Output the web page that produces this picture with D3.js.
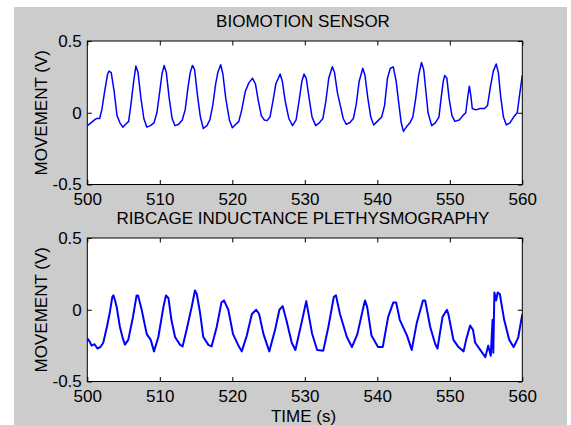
<!DOCTYPE html>
<html>
<head>
<meta charset="utf-8">
<script src="https://cdn.jsdelivr.net/npm/d3@7"></script>
<style>
	body { margin: 0; background: #fff; }
	svg text { font-family: "Liberation Sans", Arial, sans-serif; fill: #000; }
</style>
</head>
<body>
<svg id="chart" width="571" height="425"></svg>
<script>

// biomotion sensor trace (time s, volts)
var bioTime = [500.0, 500.5, 501.0, 501.3, 501.7, 502.0, 502.4, 502.8, 503.0, 503.3, 503.7, 504.1, 504.5, 504.9, 505.3, 505.7, 506.0, 506.4, 506.7, 507.0, 507.4, 507.8, 508.2, 508.7, 509.2, 509.6, 510.0, 510.3, 510.6, 510.9, 511.3, 511.7, 512.1, 512.6, 513.1, 513.5, 513.9, 514.2, 514.5, 514.8, 515.2, 515.6, 516.0, 516.5, 516.9, 517.3, 517.7, 518.0, 518.4, 518.7, 519.1, 519.6, 520.0, 520.5, 520.9, 521.3, 521.8, 522.3, 522.8, 523.2, 523.6, 524.0, 524.4, 524.8, 525.2, 525.6, 526.0, 526.6, 526.9, 527.3, 527.8, 528.3, 528.8, 529.2, 529.6, 529.9, 530.2, 530.6, 531.0, 531.5, 532.0, 532.5, 532.9, 533.3, 533.8, 534.1, 534.5, 534.9, 535.3, 535.7, 536.2, 536.7, 537.1, 537.5, 538.0, 538.3, 538.7, 539.1, 539.5, 540.0, 540.6, 541.0, 541.4, 541.8, 542.2, 542.6, 543.0, 543.3, 543.6, 544.0, 544.5, 544.9, 545.3, 545.7, 546.1, 546.4, 546.7, 547.0, 547.5, 548.0, 548.5, 548.8, 549.1, 549.3, 549.6, 549.9, 550.3, 550.7, 551.3, 551.8, 552.2, 552.5, 552.7, 552.9, 553.1, 553.6, 554.2, 554.8, 555.2, 555.6, 556.0, 556.4, 556.7, 557.0, 557.4, 557.8, 558.3, 558.8, 559.3, 559.7, 560.0];
var bioValue = [-0.09, -0.07, -0.05, -0.04, -0.04, 0.02, 0.15, 0.27, 0.29, 0.28, 0.15, -0.02, -0.07, -0.10, -0.08, -0.06, 0.05, 0.22, 0.325, 0.28, 0.10, -0.04, -0.10, -0.09, -0.07, 0.0, 0.15, 0.27, 0.33, 0.28, 0.10, -0.04, -0.09, -0.08, -0.05, 0.02, 0.18, 0.28, 0.33, 0.30, 0.12, -0.03, -0.11, -0.09, -0.05, 0.05, 0.20, 0.28, 0.335, 0.27, 0.10, -0.05, -0.105, -0.08, -0.06, 0.02, 0.15, 0.21, 0.24, 0.20, 0.08, -0.02, -0.05, -0.055, -0.03, 0.08, 0.20, 0.27, 0.22, 0.08, -0.04, -0.09, -0.05, 0.08, 0.22, 0.27, 0.24, 0.10, -0.03, -0.09, -0.07, -0.04, 0.08, 0.24, 0.32, 0.28, 0.14, 0.05, -0.04, -0.08, -0.07, -0.04, 0.06, 0.22, 0.31, 0.26, 0.10, -0.03, -0.085, -0.06, -0.03, 0.05, 0.24, 0.31, 0.32, 0.22, 0.05, -0.07, -0.13, -0.10, -0.07, -0.03, 0.10, 0.26, 0.35, 0.30, 0.15, 0.0, -0.09, -0.07, -0.03, 0.10, 0.22, 0.26, 0.24, 0.10, -0.02, -0.06, -0.05, -0.02, 0.0, 0.12, 0.185, 0.12, 0.03, 0.02, 0.03, 0.03, 0.05, 0.18, 0.29, 0.34, 0.28, 0.12, -0.03, -0.085, -0.07, -0.03, 0.0, 0.15, 0.26];

// ribcage inductance plethysmography trace
var ribTime = [500.0, 500.3, 500.6, 501.0, 501.4, 501.8, 502.2, 502.7, 503.1, 503.45, 503.6, 503.8, 504.05, 504.5, 504.9, 505.2, 505.65, 506.3, 506.8, 507.0, 507.5, 508.2, 508.75, 509.2, 509.8, 510.5, 510.85, 511.2, 511.6, 512.1, 512.8, 513.15, 513.7, 514.4, 514.85, 515.1, 515.55, 516.0, 516.7, 517.15, 517.85, 518.5, 518.85, 519.45, 520.1, 520.8, 521.3, 522.0, 522.7, 523.3, 523.7, 524.3, 525.1, 525.9, 526.5, 526.95, 527.5, 528.2, 528.7, 529.6, 530.2, 531.0, 531.7, 532.55, 533.25, 534.0, 534.3, 534.85, 535.8, 536.5, 537.25, 538.0, 538.3, 538.6, 539.2, 540.1, 540.75, 541.5, 542.2, 542.6, 543.1, 544.1, 544.75, 545.45, 546.3, 546.6, 547.3, 548.0, 548.3, 549.0, 549.6, 549.8, 550.5, 551.2, 551.9, 552.25, 552.8, 553.2, 553.5, 554.2, 554.9, 555.3, 555.65, 555.9, 556.0, 556.15, 556.4, 556.6, 556.9, 557.5, 558.2, 558.8, 559.2, 559.45, 560.0];
var ribValue = [-0.20, -0.22, -0.25, -0.24, -0.27, -0.26, -0.23, -0.12, -0.02, 0.09, 0.10, 0.07, 0.02, -0.12, -0.20, -0.243, -0.21, -0.05, 0.10, 0.10, 0.0, -0.17, -0.21, -0.29, -0.19, 0.02, 0.10, 0.08, -0.07, -0.19, -0.245, -0.255, -0.14, 0.02, 0.134, 0.11, -0.02, -0.19, -0.245, -0.255, -0.12, 0.05, 0.065, 0.0, -0.17, -0.245, -0.29, -0.18, -0.03, 0.0, -0.03, -0.17, -0.29, -0.14, 0.0, 0.025, -0.08, -0.23, -0.28, -0.08, 0.06, -0.165, -0.28, -0.285, -0.12, 0.09, 0.10, -0.03, -0.19, -0.26, -0.17, 0.0, 0.065, 0.02, -0.18, -0.26, -0.26, -0.05, 0.05, 0.05, -0.07, -0.18, -0.28, -0.09, 0.065, 0.065, -0.12, -0.24, -0.27, -0.05, 0.0, -0.03, -0.21, -0.26, -0.29, -0.21, -0.11, -0.14, -0.23, -0.28, -0.33, -0.25, -0.32, -0.07, -0.30, 0.12, 0.065, 0.12, 0.11, -0.07, -0.21, -0.26, -0.22, -0.19, -0.03];

var xTicks = [500, 510, 520, 530, 540, 550, 560];
var yTicks = [-0.5, 0, 0.5];
var yTickLabels = ["-0.5", "0", "0.5"];

var panels = [
	{
		title: "BIOMOTION SENSOR",
		time: bioTime,
		value: bioValue,
		top: 41,
		width: 1.5
	},
	{
		title: "RIBCAGE INDUCTANCE PLETHYSMOGRAPHY",
		time: ribTime,
		value: ribValue,
		top: 238,
		width: 2
	}
];

var left = 87.3, right = 522.3, ph = 143.5;

var svg = d3.select("#chart");

svg.append("rect")
	.attr("x", 14).attr("y", 7)
	.attr("width", 553).attr("height", 418)
	.attr("fill", "#cccccc");

var x = d3.scaleLinear().domain([500, 560]).range([left, right]);

panels.forEach( (p, i) => {

	var y = d3.scaleLinear().domain([-0.5, 0.5]).range([p.top + ph, p.top]);

	svg.append("rect")
		.attr("x", left).attr("y", p.top)
		.attr("width", right - left).attr("height", ph)
		.attr("fill", "#fff");

	svg.append("clipPath")
		.attr("id", "clip" + i)
		.append("rect")
		.attr("x", left).attr("y", p.top)
		.attr("width", right - left).attr("height", ph);

	var pts = p.time.map( (t, k) => [t, p.value[k]] );

	svg.append("path")
		.datum(pts)
		.attr("clip-path", "url(#clip" + i + ")")
		.attr("d", d3.line( d => x(d[0]), d => y(d[1]) ))
		.attr("fill", "none")
		.attr("stroke", "#0000ff")
		.attr("stroke-width", p.width)
		.attr("stroke-linejoin", "round");

	// bottom axis with labels, inward ticks
	var gb = svg.append("g")
		.attr("transform", `translate(0,${p.top + ph})`)
		.call(d3.axisBottom(x).tickValues(xTicks).tickFormat(d3.format("d"))
			.tickSizeInner(-4.5).tickSizeOuter(0).tickPadding(8.7));

	var gt = svg.append("g")
		.attr("transform", `translate(0,${p.top})`)
		.call(d3.axisTop(x).tickValues(xTicks).tickFormat("")
			.tickSizeInner(-4.5).tickSizeOuter(0));

	var gl = svg.append("g")
		.attr("transform", `translate(${left},0)`)
		.call(d3.axisLeft(y).tickValues(yTicks).tickFormat( (d, k) => yTickLabels[k] )
			.tickSizeInner(-4.5).tickSizeOuter(0).tickPadding(5.5));

	var gr = svg.append("g")
		.attr("transform", `translate(${right},0)`)
		.call(d3.axisRight(y).tickValues(yTicks).tickFormat("")
			.tickSizeInner(-4.5).tickSizeOuter(0));

	[gb, gt, gl, gr].forEach( g => {
		g.select(".domain").remove();
		g.selectAll("line").attr("stroke", "#000");
		g.selectAll("text").attr("font-size", 17).attr("fill", "#000")
			.attr("font-family", "'Liberation Sans', Arial, sans-serif");
	});

	svg.append("rect")
		.attr("x", left).attr("y", p.top)
		.attr("width", right - left).attr("height", ph)
		.attr("fill", "none")
		.attr("stroke", "#000")
		.attr("stroke-width", 1);

	svg.append("text")
		.attr("x", 303)
		.attr("y", p.top - 14)
		.attr("text-anchor", "middle")
		.attr("font-size", 17)
		.text(p.title);

	svg.append("text")
		.attr("transform", `translate(46.5,${p.top + ph / 2}) rotate(-90)`)
		.attr("text-anchor", "middle")
		.attr("font-size", 17)
		.text("MOVEMENT (V)");

});

svg.append("text")
	.attr("x", 303.5)
	.attr("y", 422)
	.attr("text-anchor", "middle")
	.attr("font-size", 17)
	.text("TIME (s)");

</script>
</body>
</html>
